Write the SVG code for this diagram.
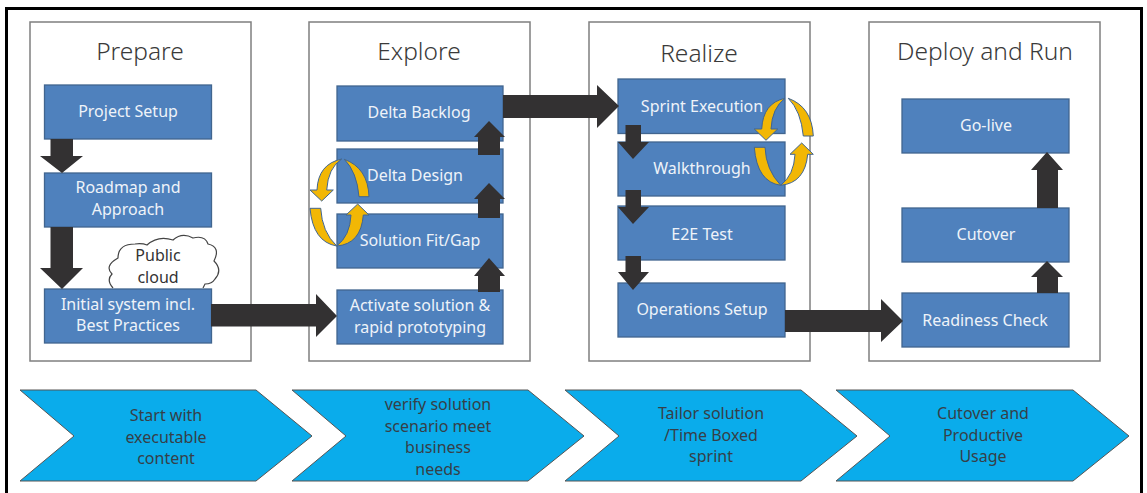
<svg xmlns="http://www.w3.org/2000/svg" width="1147" height="493" viewBox="0 0 1147 493">
<style>
text{font-family:"Noto Sans","Open Sans","Liberation Sans",sans-serif;text-anchor:middle}
.panel{fill:#fff;stroke:#7f7f7f;stroke-width:1.5}
.title{font-size:24.500px;fill:#3a3a3a;font-weight:300}
.box{fill:#4f81bd;stroke:#41658f;stroke-width:1.3}
.bt{font-size:16px;fill:#eef3f9}
.arr{fill:#333132}
.cyc{fill:#f2b705;stroke:#41658f;stroke-width:1}
.chev{fill:#0aaceb;stroke:#555;stroke-width:1}
.ct{font-size:16px;fill:#363f48}
.cloud{fill:#fff;stroke:#444;stroke-width:1.2}
.frame{fill:none;stroke:#000;stroke-width:3}
</style>
<rect width="1147" height="493" fill="#fff"/>
<path class="frame" d="M6.500 493V8.500H1141.500V493"/>
<g id="panel-prepare"><rect class="panel" x="30" y="22" width="221" height="339"/><text class="title" x="140" y="60">Prepare</text></g>
<g id="panel-explore"><rect class="panel" x="309" y="22" width="221" height="339"/><text class="title" x="419" y="60">Explore</text></g>
<g id="panel-realize"><rect class="panel" x="589" y="22" width="221" height="339"/><text class="title" x="699" y="62">Realize</text></g>
<g id="panel-deploy"><rect class="panel" x="869" y="22" width="231" height="339"/><text class="title" x="985" y="60">Deploy and Run</text></g>
<g id="cloud"><path class="cloud" d="M113 288Q106 280 112 274Q104 266 118 258Q118 244 135 244Q142 243 147 245Q158 235 173 240Q182 232 193 238Q205 235 208 244Q221 247 214 261Q223 270 215 279Q212 284 205 284L203 288"/><text class="ct" x="158" y="261" style="fill:#333">Public</text><text class="ct" x="158" y="283" style="fill:#333">cloud</text></g>
<g id="project-setup"><rect class="box" x="44.500" y="85" width="167" height="54"/><text class="bt" x="128" y="117">Project Setup</text></g>
<g id="roadmap"><rect class="box" x="44.500" y="173" width="167" height="54"/><text class="bt" x="128" y="193">Roadmap and</text><text class="bt" x="128" y="215">Approach</text></g>
<g id="initial-system"><rect class="box" x="44.500" y="289" width="167" height="54"/><text class="bt" x="128" y="309.500">Initial system incl.</text><text class="bt" x="128" y="331">Best Practices</text></g>
<g id="delta-backlog"><rect class="box" x="337" y="86" width="166" height="55"/><text class="bt" x="419" y="118">Delta Backlog</text></g>
<g id="delta-design"><rect class="box" x="337" y="149" width="166" height="54"/><text class="bt" x="415" y="181">Delta Design</text></g>
<g id="solution-fit"><rect class="box" x="337" y="214" width="166" height="54"/><text class="bt" x="420" y="246">Solution Fit/Gap</text></g>
<g id="activate"><rect class="box" x="337" y="290" width="166" height="54"/><text class="bt" x="420" y="311">Activate solution &amp;</text><text class="bt" x="420" y="333">rapid prototyping</text></g>
<g id="sprint-execution"><rect class="box" x="618" y="79" width="167" height="54.500"/><text class="bt" x="702" y="112">Sprint Execution</text></g>
<g id="walkthrough"><rect class="box" x="618" y="142" width="167" height="54"/><text class="bt" x="702" y="174">Walkthrough</text></g>
<g id="e2e-test"><rect class="box" x="618" y="206" width="167" height="54"/><text class="bt" x="702" y="240">E2E Test</text></g>
<g id="operations-setup"><rect class="box" x="618" y="283" width="167" height="54"/><text class="bt" x="702" y="315">Operations Setup</text></g>
<g id="go-live"><rect class="box" x="902" y="99" width="167" height="54"/><text class="bt" x="986" y="131">Go-live</text></g>
<g id="cutover"><rect class="box" x="902" y="208" width="167" height="54"/><text class="bt" x="986" y="240">Cutover</text></g>
<g id="readiness-check"><rect class="box" x="902" y="293" width="167" height="54"/><text class="bt" x="985" y="326">Readiness Check</text></g>
<g id="connectors">
<polygon class="arr" points="50.500,139 73,139 73,156 83,156 62,173 40,156 50.500,156"/>
<polygon class="arr" points="50.500,227 73,227 73,268 83,268 62,289 40,268 50.500,268"/>
<polygon class="arr" points="211,304 316,304 316,294 337,316 316,337 316,326.500 211,326.500"/>
<polygon class="arr" points="478,155 500,155 500,137 505,137 489,121 474,137 478,137"/>
<polygon class="arr" points="478,218 500,218 500,199 505,199 489,183 474,199 478,199"/>
<polygon class="arr" points="478,292 500,292 500,276 505,276 489,258 474,276 478,276"/>
<polygon class="arr" points="503,95 597,95 597,85 619,106 597,128 597,118 503,118"/>
<polygon class="arr" points="625.500,125 641,125 641,142 649,142 633,159 618,142 625.500,142"/>
<polygon class="arr" points="625.500,190 641,190 641,207 649,207 633,224 618,207 625.500,207"/>
<polygon class="arr" points="625.500,256 641,256 641,272 649,272 633,290 618,272 625.500,272"/>
<polygon class="arr" points="785,310 881,310 881,299 903,321 881,342 881,332 785,332"/>
<polygon class="arr" points="1037,208 1058,208 1058,170 1063,170 1047,152 1031,170 1037,170"/>
<polygon class="arr" points="1037,293 1058,293 1058,277 1063,277 1047,261 1031,277 1037,277"/>
<path class="cyc" d="M341.700 159Q318 164 317 190H310L321.700 201L333.300 190H326.700Q328 168 341.700 159Z"/>
<path class="cyc" d="M344.300 159.300Q368 168 369 196.700H359Q357 172 344.300 159.300Z"/>
<path class="cyc" d="M310 208.300H320.700Q322 232 336.700 246Q313 242 310 208.300Z"/>
<path class="cyc" d="M336.700 246Q361 244 363.300 215H369L357.700 204L346 215H351Q350 236 336.700 246Z"/>
<path class="cyc" d="M785 98.300Q763 103 761.700 129H754.300L766 140.300L777.700 129H771Q772 108 785 98.300Z"/>
<path class="cyc" d="M788.300 98.300Q812 107 813.300 136H803.300Q801 111 788.300 98.300Z"/>
<path class="cyc" d="M754.300 147.300H765Q766 170 780.700 185.300Q757 182 754.300 147.300Z"/>
<path class="cyc" d="M780.700 185.300Q805 183 807.700 154.300H813.300L801.700 143L790 154.300H795Q794 175 780.700 185.300Z"/>
</g>
<g id="chevron-1"><polygon class="chev" points="20,390 256,390 312,436 256,481 20,481 74,436"/><text class="ct" x="166" y="420.500">Start with</text><text class="ct" x="166" y="442.500">executable</text><text class="ct" x="166" y="463.500">content</text></g>
<g id="chevron-2"><polygon class="chev" points="292,390 528,390 584,436 528,481 292,481 346,436"/><text class="ct" x="438" y="409.500">verify solution</text><text class="ct" x="438" y="431.500">scenario meet</text><text class="ct" x="438" y="452.500">business</text><text class="ct" x="438" y="474.500">needs</text></g>
<g id="chevron-3"><polygon class="chev" points="565,390 801,390 857,436 801,481 565,481 619,436"/><text class="ct" x="711" y="418.500">Tailor solution</text><text class="ct" x="711" y="440.500">/Time Boxed</text><text class="ct" x="711" y="461.500">sprint</text></g>
<g id="chevron-4"><polygon class="chev" points="836,390 1073,390 1129,436 1073,481 836,481 890,436"/><text class="ct" x="983" y="418.500">Cutover and</text><text class="ct" x="983" y="440.500">Productive</text><text class="ct" x="983" y="461.500">Usage</text></g>
</svg>
